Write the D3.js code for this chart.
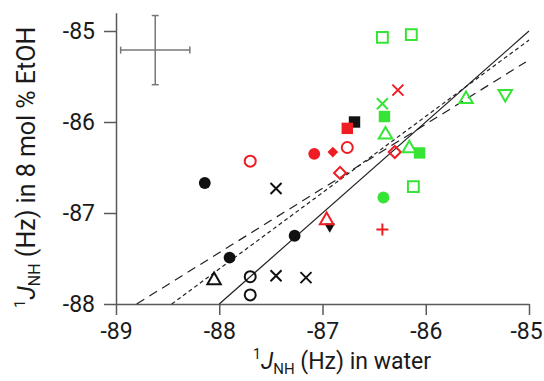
<!DOCTYPE html>
<html>
<head>
<meta charset="utf-8">
<script src="https://cdn.jsdelivr.net/npm/d3@7"></script>
<style>
body { margin: 0; background: #fff; }
svg text { font-family: Roboto, "Open Sans", sans-serif; fill: #1a1a1a; }
</style>
</head>
<body>
<svg id="chart" width="544" height="381"></svg>
<script>
// ---- data ----
var xTicks = [-89, -88, -87, -86, -85];
var yTicks = [-88, -87, -86, -85];

// [1J_NH in water, 1J_NH in 8 mol % EtOH, marker]
var blackPoints = [
    [-88.14, -86.67, "circle"],
    [-87.90, -87.49, "circle"],
    [-87.27, -87.25, "circle"],
    [-86.69, -86.00, "square"],
    [-88.05, -87.74, "openTriangle"],
    [-87.70, -87.70, "openCircle"],
    [-87.70, -87.90, "openCircle"],
    [-87.45, -86.73, "x"],
    [-87.45, -87.69, "x"],
    [-87.16, -87.71, "x"],
    [-86.93, -87.15, "downTriangle"]
];
var redPoints = [
    [-87.70, -86.43, "openCircle"],
    [-87.08, -86.35, "circle"],
    [-86.90, -86.33, "diamond"],
    [-86.76, -86.28, "openCircle"],
    [-86.76, -86.07, "square"],
    [-86.83, -86.56, "openDiamond"],
    [-86.30, -86.33, "openDiamond"],
    [-86.27, -85.65, "x"],
    [-86.42, -87.18, "plus"],
    [-86.96, -87.08, "openTriangle"]
];
var greenPoints = [
    [-86.42, -85.07, "openSquare"],
    [-86.14, -85.04, "openSquare"],
    [-86.42, -85.80, "x"],
    [-86.40, -85.94, "square"],
    [-86.39, -86.14, "openTriangle"],
    [-86.16, -86.29, "openTriangle"],
    [-86.06, -86.34, "square"],
    [-86.41, -86.83, "circle"],
    [-86.12, -86.71, "openSquare"],
    [-85.61, -85.75, "openTriangle"],
    [-85.23, -85.69, "openDownTriangle"]
];

// typical uncertainty, drawn top left
var errorBar = {x: -88.62, y: -85.21, dx: 0.335, dy: 0.38};

// y = x and the two fitted lines
var solidLine = [[-88, -88], [-85, -85]];
var shortDashLine = [[-88.46, -88], [-85.0, -85.10]];
var longDashLine = [[-88.80, -88], [-85.03, -85.34]];

var colors = {black: "#111", red: "#ee1d24", green: "#35e435"};

// ---- chart ----
var svg = d3.select("#chart");

var x = d3.scaleLinear().domain([-89, -85]).range([116, 529]);
var y = d3.scaleLinear().domain([-88, -84.8]).range([304, 12.8]);

//axes
var xAxis = d3.axisBottom(x).tickValues(xTicks).tickSize(11).tickSizeOuter(0)
    .tickPadding(8).tickFormat(function(d){ return String(d); });
var yAxis = d3.axisLeft(y).tickValues(yTicks).tickSize(12).tickSizeOuter(0)
    .tickPadding(9).tickFormat(function(d){ return String(d); });

var gx = svg.append("g").attr("transform", "translate(0,304)").call(xAxis);
var gy = svg.append("g").attr("transform", "translate(116,0)").call(yAxis);

[gx, gy].forEach(function(g){
    g.selectAll("path, line").attr("stroke", "#5a5a5a").attr("stroke-width", 1.5);
    g.selectAll("text").attr("font-size", 23).attr("fill", "#1a1a1a")
        .style("font-family", "Roboto, 'Open Sans', sans-serif");
});
// keep the last x label inside the picture
gx.selectAll(".tick text").filter(function(d){ return d == -85; }).attr("dx", -3);

// error bar cross
var eb = svg.append("g").attr("stroke", "#777").attr("stroke-width", 1.5);
eb.append("line")
    .attr("x1", x(errorBar.x - errorBar.dx)).attr("x2", x(errorBar.x + errorBar.dx))
    .attr("y1", y(errorBar.y)).attr("y2", y(errorBar.y));
eb.append("line")
    .attr("x1", x(errorBar.x)).attr("x2", x(errorBar.x))
    .attr("y1", y(errorBar.y - errorBar.dy)).attr("y2", y(errorBar.y + errorBar.dy));
[-1, 1].forEach(function(s){
    eb.append("line")
        .attr("x1", x(errorBar.x + s*errorBar.dx)).attr("x2", x(errorBar.x + s*errorBar.dx))
        .attr("y1", y(errorBar.y) - 3.5).attr("y2", y(errorBar.y) + 3.5);
    eb.append("line")
        .attr("x1", x(errorBar.x) - 3.5).attr("x2", x(errorBar.x) + 3.5)
        .attr("y1", y(errorBar.y + s*errorBar.dy)).attr("y2", y(errorBar.y + s*errorBar.dy));
});

// lines
var line = d3.line().x(function(d){ return x(d[0]); }).y(function(d){ return y(d[1]); });
svg.append("path").datum(solidLine).attr("d", line)
    .attr("fill", "none").attr("stroke", "#222").attr("stroke-width", 1.2);
svg.append("path").datum(shortDashLine).attr("d", line)
    .attr("fill", "none").attr("stroke", "#222").attr("stroke-width", 1.2)
    .attr("stroke-dasharray", "4,3");
svg.append("path").datum(longDashLine).attr("d", line)
    .attr("fill", "none").attr("stroke", "#222").attr("stroke-width", 1.2)
    .attr("stroke-dasharray", "9,6");

// markers
function markerPath(kind){
    switch(kind){
        case "circle": return d3.symbol(d3.symbolCircle, 110)();
        case "openCircle": return d3.symbol(d3.symbolCircle, 95)();
        case "square": return d3.symbol(d3.symbolSquare, 130)();
        case "openSquare": return d3.symbol(d3.symbolSquare, 118)();
        case "openTriangle": return d3.symbol(d3.symbolTriangle, 78)();
        case "downTriangle": return d3.symbol(d3.symbolTriangle, 50)();
        case "openDownTriangle": return d3.symbol(d3.symbolTriangle, 78)();
        case "diamond": return d3.symbol(d3.symbolSquare, 58)();
        case "openDiamond": return d3.symbol(d3.symbolSquare, 72)();
        case "x": return "M-5.5,-5.5L5.5,5.5M-5.5,5.5L5.5,-5.5";
        case "plus": return "M-6,0H6M0,-6V6";
    }
}
function rotation(kind){
    if (kind == "downTriangle" || kind == "openDownTriangle") return " rotate(180)";
    if (kind == "diamond" || kind == "openDiamond") return " rotate(45)";
    return "";
}
function isFilled(kind){
    return kind == "circle" || kind == "square" || kind == "diamond" || kind == "downTriangle";
}

function drawSeries(points, color){
    svg.append("g").selectAll("path")
        .data(points)
        .enter()
        .append("path")
        .attr("d", function(d){ return markerPath(d[2]); })
        .attr("transform", function(d){
            return "translate(" + x(d[0]) + "," + y(d[1]) + ")" + rotation(d[2]);
        })
        .attr("fill", function(d){ return isFilled(d[2]) ? color : "none"; })
        .attr("stroke", function(d){ return isFilled(d[2]) ? "none" : color; })
        .attr("stroke-width", 2);
}
drawSeries(blackPoints, colors.black);
drawSeries(redPoints, colors.red);
drawSeries(greenPoints, colors.green);

// axis titles
var xt = svg.append("text").attr("x", 253).attr("y", 369).attr("font-size", 23);
xt.append("tspan").attr("font-size", 14).attr("dy", -10).text("1");
xt.append("tspan").attr("font-style", "italic").attr("dy", 10).text("J");
xt.append("tspan").attr("font-size", 15).attr("dy", 5).text("NH");
xt.append("tspan").attr("dy", -5).text(" (Hz) in water");

var yt = svg.append("text").attr("transform", "translate(35,308) rotate(-90)").attr("font-size", 25);
yt.append("tspan").attr("font-size", 15).attr("dy", -10).text("1");
yt.append("tspan").attr("font-style", "italic").attr("dy", 10).text("J");
yt.append("tspan").attr("font-size", 16).attr("dy", 5).text("NH");
yt.append("tspan").attr("dy", -5).text(" (Hz) in 8 mol % EtOH");
</script>
</body>
</html>
